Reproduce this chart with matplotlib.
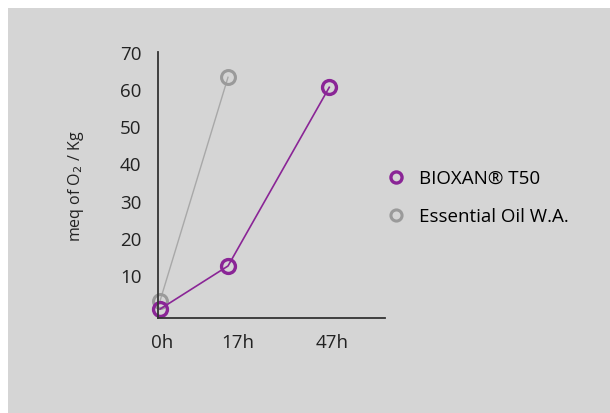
import matplotlib.pyplot as plt
from matplotlib.patches import Rectangle

# sampling times (axis is not to scale, so positions are set by hand)
times = ['0h', '17h', '47h']
x_pos = [0, 1, 2.49]
tick_pos = [0.03, 1.15, 2.53]

bioxan = [0.8, 12.4, 60.5]
essential_oil = [3.0, 63.2]

purple = '#8a2596'
grey = '#9a9a9a'
bg = '#d5d5d5'

plt.rcParams['font.family'] = ['Open Sans', 'DejaVu Sans']

fig = plt.figure(figsize=(6.10, 4.14), dpi=100)
fig.patch.set_facecolor('white')
fig.patches.append(Rectangle((8 / 610, 0), 1, 1 - 9 / 414, transform=fig.transFigure,
                             facecolor=bg, edgecolor='none', zorder=-10))

ax = fig.add_axes([158 / 610, 1 - 319 / 414, (385 - 158) / 610, (319 - 53) / 414])
ax.set_facecolor('none')

ax.plot(x_pos[:2], essential_oil, color='#a8a8a8', lw=1.0, marker='o', ms=10,
        mfc='none', mec=grey, mew=2.2, label='Essential Oil W.A.', clip_on=False)
ax.plot(x_pos, bioxan, color=purple, lw=1.2, marker='o', ms=10,
        mfc='none', mec=purple, mew=2.4, label='BIOXAN® T50', clip_on=False)

ax.set_xlim(-0.03, 3.31)
ax.set_ylim(-1.6, 70)
ax.set_xticks(tick_pos)
ax.set_xticklabels(times)
ax.set_yticks([10, 20, 30, 40, 50, 60, 70])
ax.tick_params(length=0, labelsize=13.5, colors='#222222')
ax.tick_params(axis='y', pad=12)
ax.tick_params(axis='x', pad=11)

for s in ['top', 'right']:
    ax.spines[s].set_visible(False)
for s in ['left', 'bottom']:
    ax.spines[s].set_color('#333333')
    ax.spines[s].set_linewidth(1.3)

ax.set_ylabel('meq of O$_2$ / Kg', fontsize=11.5, color='#222222')
ax.yaxis.set_label_coords(-0.315, 0.5)

handles, labels = ax.get_legend_handles_labels()
leg = ax.legend(handles[::-1], labels[::-1], loc='center left',
                bbox_to_anchor=(1.0, 0.454), frameon=False, fontsize=13.5,
                handlelength=0, handletextpad=1.2, labelspacing=1.07,
                markerscale=0.8, borderaxespad=0.2)
for h in leg.legend_handles:
    h.set_linestyle('none')

fig.savefig('out.png', dpi=100, facecolor=fig.get_facecolor())
